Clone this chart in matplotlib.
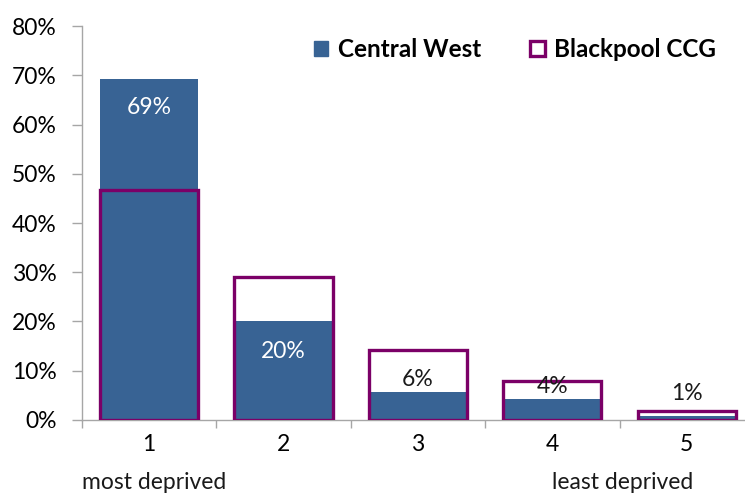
import matplotlib.pyplot as plt
import numpy as np
from matplotlib.patches import Patch
from matplotlib.ticker import FuncFormatter

plt.rcParams["font.family"] = ["Lato", "DejaVu Sans"]

# Share of population by deprivation quintile
quintiles = ["1", "2", "3", "4", "5"]
central_west = [69.2, 20.1, 5.7, 4.3, 0.8]
blackpool_ccg = [46.7, 29.0, 14.2, 7.9, 1.8]

BLUE = "#386394"
PURPLE = "#7b0067"
GREY = "#a6a6a6"
FS = 16.5

fig = plt.figure(figsize=(7.45, 4.94), dpi=100)
ax = fig.add_axes([0.110, 0.150, 0.902, 0.797])

x = np.arange(len(quintiles))
width = 0.73
ax.bar(x, central_west, width, color=BLUE, zorder=2)
ax.bar(x, blackpool_ccg, width, facecolor="none", edgecolor=PURPLE,
       linewidth=2.4, zorder=3)

# data labels: white inside the tall bars, dark above the short ones
offsets = [-20, -22, 9, 9, 16]
for xi, v, off in zip(x, central_west, offsets):
    colour = "white" if off < 0 else "#1a1a1a"
    ax.annotate(f"{v:.0f}%", (xi, v), xytext=(0, off), textcoords="offset points",
                ha="center", va="center", fontsize=FS, color=colour, zorder=4)

ax.set_xlim(-0.5, len(quintiles) - 0.5)
ax.set_ylim(0, 80)
ax.set_yticks(np.arange(0, 81, 10))
ax.yaxis.set_major_formatter(FuncFormatter(lambda v, _: f"{v:.0f}%"))

ax.set_xticks(x)
ax.set_xticklabels(quintiles)
ax.set_xticks(np.arange(-0.5, len(quintiles)), minor=True)
ax.tick_params(axis="x", which="major", length=0, pad=10, labelsize=FS)
ax.tick_params(axis="x", which="minor", length=6, color=GREY, width=1)
ax.tick_params(axis="y", length=7, color=GREY, width=1, labelsize=FS, pad=11)

for side in ("top", "right"):
    ax.spines[side].set_visible(False)
for side in ("left", "bottom"):
    ax.spines[side].set_color(GREY)
    ax.spines[side].set_linewidth(1)

trans = ax.get_xaxis_transform()
ax.text(0.04, -0.16, "most deprived", transform=trans, ha="center", va="center",
        fontsize=FS, color="#1a1a1a")
ax.text(3.52, -0.16, "least deprived", transform=trans, ha="center", va="center",
        fontsize=FS, color="#1a1a1a")

handles = [Patch(facecolor=BLUE, edgecolor=BLUE, label="Central West"),
           Patch(facecolor="white", edgecolor=PURPLE, linewidth=2.4, label="Blackpool CCG")]
leg = fig.legend(handles=handles, loc="center left", bbox_to_anchor=(0.392, 0.90),
                 ncol=2, frameon=False, handlelength=0.6, handleheight=0.6,
                 handletextpad=0.4, columnspacing=2.0,
                 prop={"weight": "bold", "size": 17.5})

fig.savefig("out.png", dpi=100)
